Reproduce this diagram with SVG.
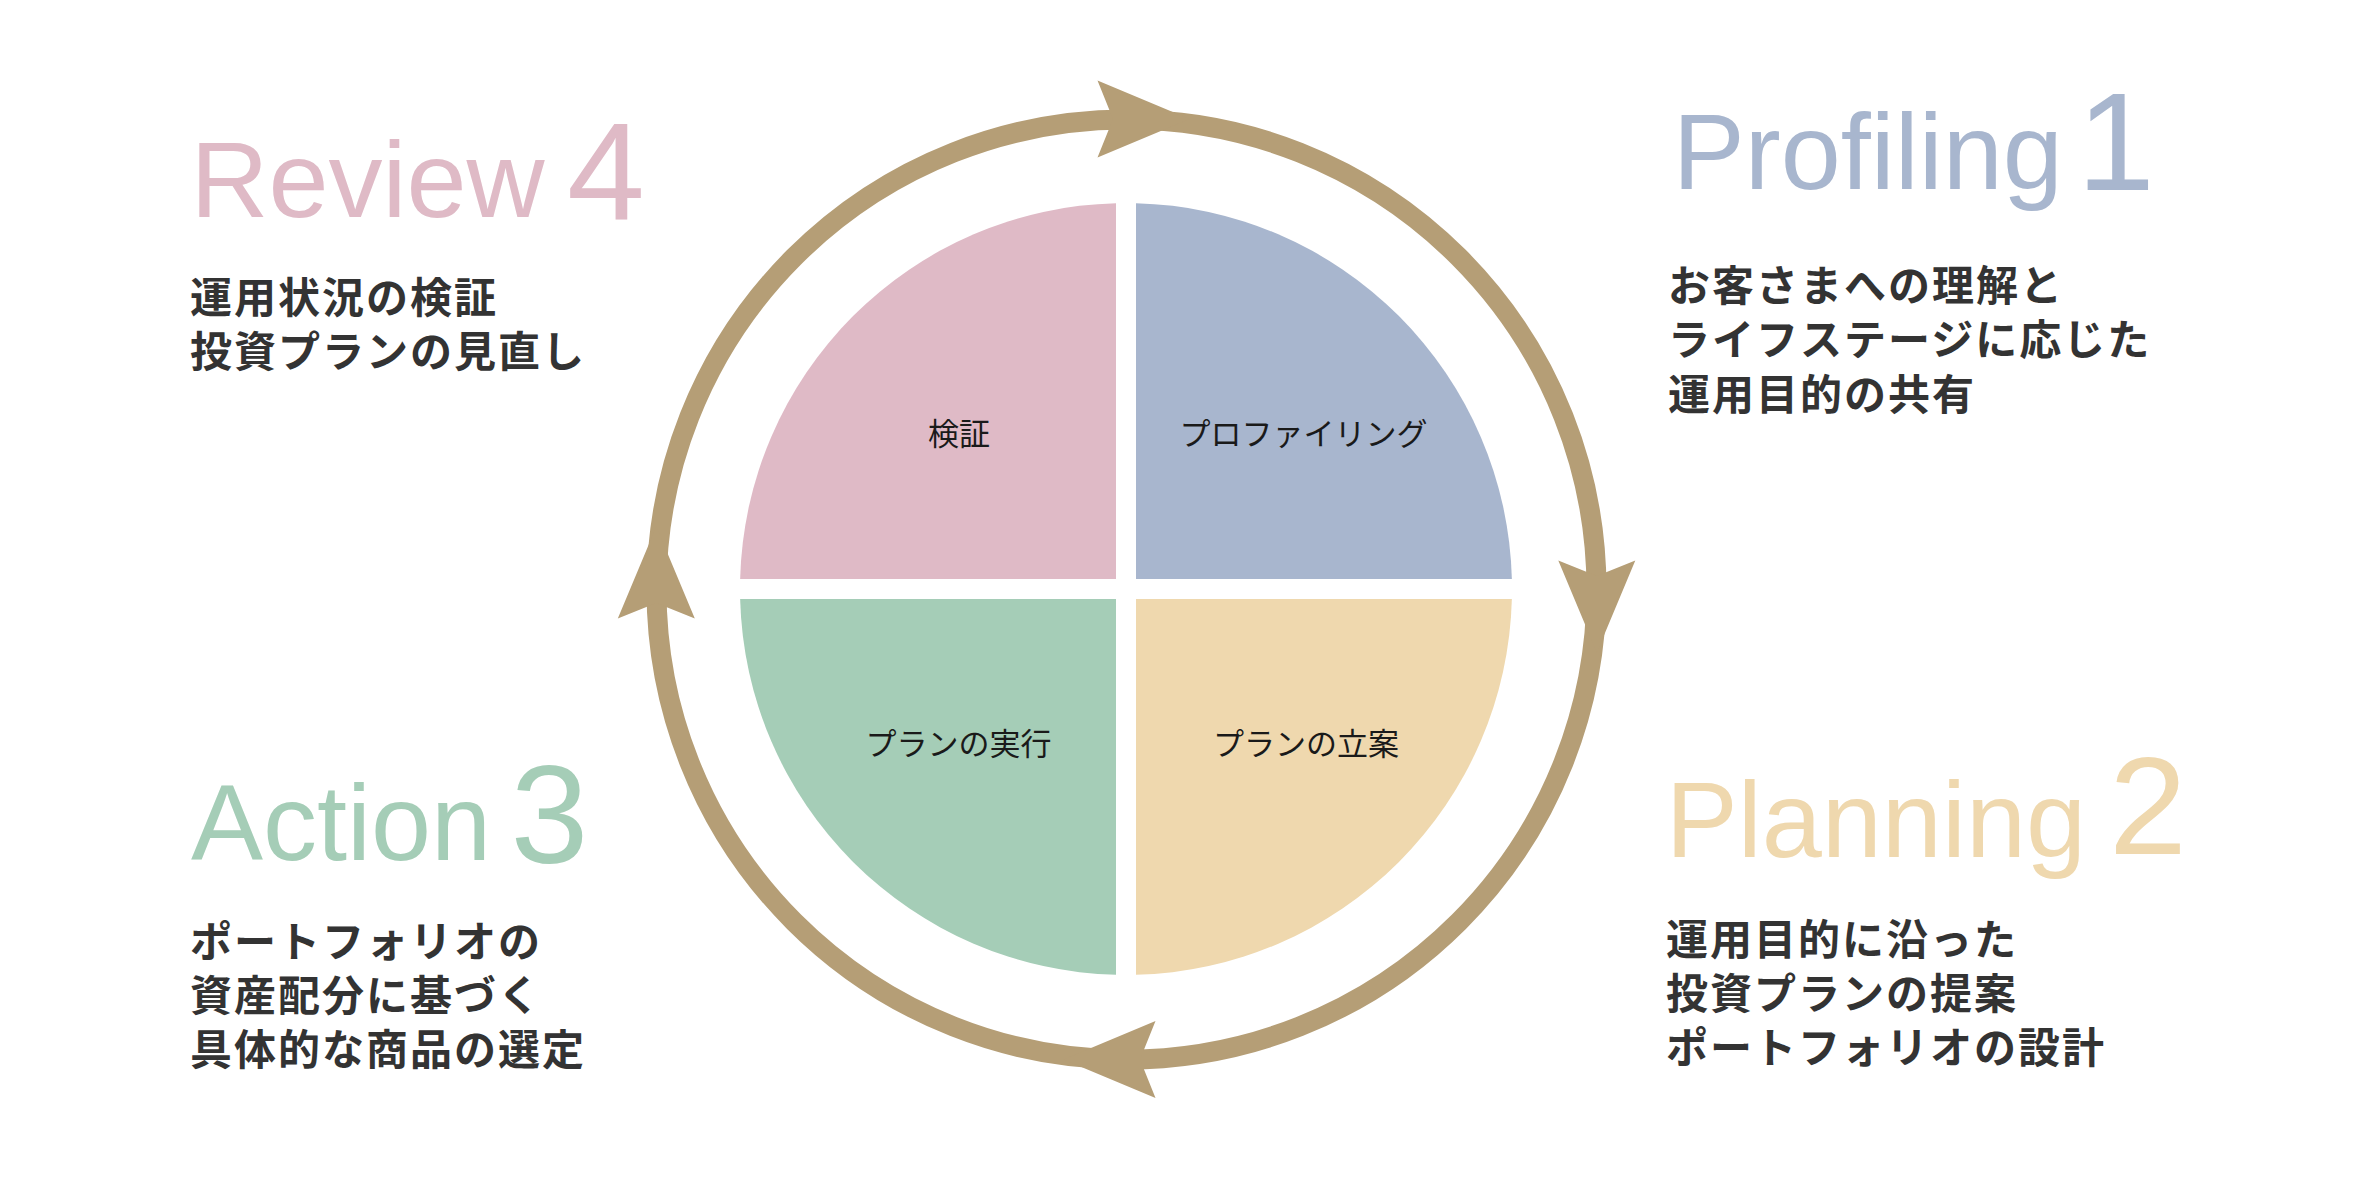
<svg xmlns="http://www.w3.org/2000/svg" width="2360" height="1178" viewBox="0 0 2360 1178">
<style>
.head{font-family:"Liberation Sans",Arial,sans-serif;font-size:108px}
.num{font-family:"Liberation Sans",Arial,sans-serif;font-size:140px}
.desc{font-family:"Noto Sans CJK JP",sans-serif;font-size:42px;font-weight:bold;fill:#333333;letter-spacing:2px}
.lbl{font-family:"Noto Sans CJK JP",sans-serif;font-size:31px;fill:#1a1a1a;text-anchor:middle}
.pink{fill:#DFBAC6}.blue{fill:#A8B6CE}.green{fill:#A5CDB7}.yellow{fill:#EFD8AE}
.ring{fill:none;stroke:#B59E76;stroke-width:20}
.arr{fill:#B59E76}
</style>
<defs>
<path id="ah" d="M-29,-38.5 L63,0 L-29,38.5 L-13.5,0 Z"/>
</defs>
<rect width="2360" height="1178" fill="#ffffff"/>
<g id="connectors">
<circle class="ring" cx="1126.5" cy="589.5" r="470"/>
<use href="#ah" class="arr" transform="translate(1126.5,119)"/>
<use href="#ah" class="arr" transform="translate(1596.8,589.5) rotate(90)"/>
<use href="#ah" class="arr" transform="translate(1126.5,1059.5) rotate(180)"/>
<use href="#ah" class="arr" transform="translate(656.3,589.5) rotate(270)"/>
</g>
<g id="q-review">
<path class="pink" d="M1116,579 L1116,203.13 A386,386 0 0 0 740.13,579 Z"/>
<text class="lbl" x="959" y="445">検証</text>
</g>
<g id="q-profiling">
<path class="blue" d="M1136,579 L1136,203.13 A386,386 0 0 1 1511.87,579 Z"/>
<text class="lbl" x="1303.5" y="445">プロファイリング</text>
</g>
<g id="q-planning">
<path class="yellow" d="M1136,599 L1511.87,599 A386,386 0 0 1 1136,974.87 Z"/>
<text class="lbl" x="1306" y="755">プランの立案</text>
</g>
<g id="q-action">
<path class="green" d="M1116,599 L1116,974.87 A386,386 0 0 1 740.13,599 Z"/>
<text class="lbl" x="958.5" y="755">プランの実行</text>
</g>
<g id="step-review">
<text class="head pink" x="190.5" y="217">Review</text>
<text class="num pink" x="567" y="220">4</text>
<text class="desc" x="190" y="313">運用状況の検証</text>
<text class="desc" x="190" y="367">投資プランの見直し</text>
</g>
<g id="step-profiling">
<text class="head blue" x="1672.7" y="189">Profiling</text>
<text class="num blue" x="2077" y="190">1</text>
<text class="desc" x="1668" y="300.5">お客さまへの理解と</text>
<text class="desc" x="1668" y="355">ライフステージに応じた</text>
<text class="desc" x="1668" y="409.5">運用目的の共有</text>
</g>
<g id="step-action">
<text class="head green" x="191" y="860">Action</text>
<text class="num green" x="510.5" y="863">3</text>
<text class="desc" x="190" y="957">ポートフォリオの</text>
<text class="desc" x="190" y="1011">資産配分に基づく</text>
<text class="desc" x="190" y="1065">具体的な商品の選定</text>
</g>
<g id="step-planning">
<text class="head yellow" x="1665.7" y="857">Planning</text>
<text class="num yellow" x="2109" y="854">2</text>
<text class="desc" x="1666" y="955">運用目的に沿った</text>
<text class="desc" x="1666" y="1009">投資プランの提案</text>
<text class="desc" x="1666" y="1063">ポートフォリオの設計</text>
</g>
</svg>
